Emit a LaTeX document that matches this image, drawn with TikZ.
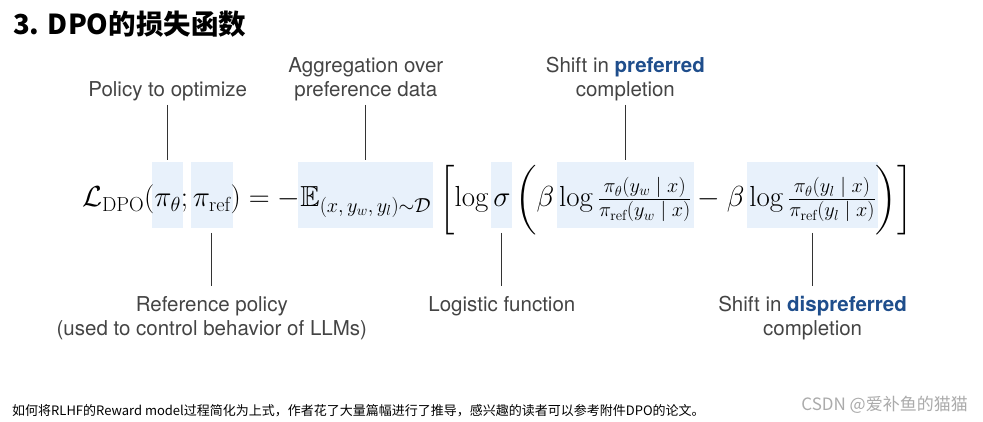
\RequirePackage{fix-cm}
\documentclass[tikz,border=0pt]{standalone}
\usepackage{amsmath}
\usepackage{amssymb}
\usepackage{fontspec}
\usepackage{xcolor}
\usetikzlibrary{positioning, backgrounds}
\newfontfamily\cjkfont{Noto Sans CJK SC}
\newfontfamily\lblfont{TeX Gyre Heros}
\definecolor{hlblue}{HTML}{E8F1FB}
\definecolor{lblgray}{HTML}{444444}
\definecolor{keyblue}{HTML}{1F4E8C}
\definecolor{linegray}{HTML}{333333}
\definecolor{markgray}{HTML}{ABABAB}
\newcommand{\eqsize}{\fontsize{29}{33}\selectfont}
\newcommand{\key}[1]{\textcolor{keyblue}{\bfseries #1}}

\tikzset{
  piece/.style={inner sep=0pt, outer sep=0pt, font=\eqsize},
  hlbox/.style={piece, text height=45pt, text depth=21pt},
  lbl/.style={font=\lblfont\fontsize{20.5}{24}\selectfont, text=lblgray, align=center, inner sep=0pt},
  pointer/.style={draw=linegray, line width=1.1pt},
}

\begin{document}
\begin{tikzpicture}[x=1pt, y=-1pt]
\useasboundingbox (0,0) rectangle (983,422);

\node[anchor=base west, inner sep=0pt, font=\cjkfont\bfseries\fontsize{27.5}{32}\selectfont] (title) at (13,35) {3. DPO的损失函数};

% Loss formula, piece by piece
\node[piece, anchor=base west] (lhs) at (82,207) {$\mathcal{L}_{\mathrm{DPO}}($};
\node[hlbox, base right=0pt of lhs] (pitheta) {$\pi_\theta$};
\node[piece, base right=0pt of pitheta] (semi) {$;\,$};
\node[hlbox, base right=0pt of semi] (piref) {$\pi_{\mathrm{ref}}$};
\node[piece, base right=0pt of piref] (eq) {$) = {-}$};
\node[hlbox, base right=0pt of eq] (expect) {$\mathbb{E}_{(x,\,y_w,\,y_l)\sim\mathcal{D}}$};
\node[piece, base right=0pt of expect] (brl) {$\;\biggl[\log\,$};
\node[hlbox, base right=0pt of brl] (sigma) {$\sigma$};
\node[piece, base right=0pt of sigma] (prl) {$\,\biggl(\beta\,$};
\node[hlbox, base right=0pt of prl] (pref) {$\log\frac{\pi_\theta(y_w\;|\;x)}{\pi_{\mathrm{ref}}(y_w\;|\;x)}$};
\node[piece, base right=0pt of pref] (minus) {${}-\beta\,$};
\node[hlbox, base right=0pt of minus] (dispref) {$\log\frac{\pi_\theta(y_l\;|\;x)}{\pi_{\mathrm{ref}}(y_l\;|\;x)}$};
\node[piece, base right=0pt of dispref] (brr) {$\biggr)\biggr]$};

% Highlights behind the terms
\begin{scope}[on background layer]
\fill[white] (0,0) rectangle (983,422);
\foreach \t in {pitheta, piref, expect, sigma, pref, dispref} {
  \fill[hlblue] ([xshift=-2pt]\t.south west) rectangle ([xshift=2pt]\t.north east);
}
\end{scope}

% Labels above
\node[lbl, anchor=south] (policy) at (pitheta.center |- 0,101.5) {Policy to optimize};
\node[lbl, anchor=south] (aggr) at (expect.center |- 0,101.5) {Aggregation over\\preference data};
\node[lbl, anchor=south] (shiftw) at (pref.center |- 0,101.5) {Shift in \key{preferred}\\completion};

% Labels below
\node[lbl, anchor=north] (refpol) at (piref.center |- 0,296.3) {Reference policy\\(used to control behavior of LLMs)};
\node[lbl, anchor=north] (logistic) at (sigma.center |- 0,296.3) {Logistic function};
\node[lbl, anchor=north] (shiftl) at (dispref.center |- 0,296.3) {Shift in \key{dispreferred}\\completion};

% Pointers
\foreach \a/\b in {policy/pitheta, aggr/expect, shiftw/pref} {
  \draw[pointer, shorten <=3.5pt, shorten >=2pt] (\a.south) -- (\b.north);
}
\foreach \a/\b in {piref/refpol, sigma/logistic, dispref/shiftl} {
  \draw[pointer, shorten <=5pt, shorten >=10pt] (\a.south) -- (\b.north);
}

\node[anchor=base west, inner sep=0pt, font=\cjkfont\fontsize{13}{15}\selectfont] (note) at (12,415) {如何将RLHF的Reward model过程简化为上式，作者花了大量篇幅进行了推导，感兴趣的读者可以参考附件DPO的论文。};
\node[anchor=base east, inner sep=0pt, text=markgray, font=\cjkfont\fontsize{17}{20}\selectfont] (mark) at (968,410) {CSDN @爱补鱼的猫猫};
\end{tikzpicture}
\end{document}
